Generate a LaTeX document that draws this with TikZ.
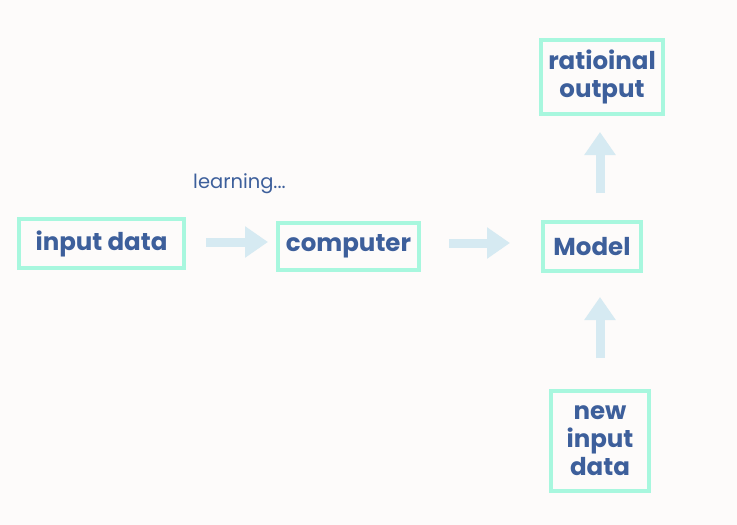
\documentclass[tikz,border=0pt]{standalone}
\usepackage{fontspec}
\setmainfont{Poppins}
\usetikzlibrary{arrows.meta}
\definecolor{bgc}{HTML}{FDFBFA}
\definecolor{boxc}{HTML}{A8F7DE}
\definecolor{txtc}{HTML}{3D5F9B}
\definecolor{arrc}{HTML}{D6EAF2}
\tikzset{
  box/.style={draw=boxc, line width=4pt, inner sep=0pt, text=txtc, font=\fontsize{24.5}{28}\selectfont\bfseries, align=center},
  flow/.style={draw=arrc, line width=9pt, -{Triangle[width=30pt,length=23pt]}, arrc}
}
\begin{document}
\begin{tikzpicture}[x=1pt,y=-1pt]
\fill[bgc] (0,0) rectangle (737,525);
\useasboundingbox (0,0) rectangle (737,525);
\node[box, minimum width=165pt, minimum height=49pt] (in) at (101.5,243.5) {input data};
\node[box, minimum width=141pt, minimum height=47pt] (comp) at (348.5,246.5) {computer};
\node[box, minimum width=98pt, minimum height=49pt] (model) at (592,246.5) {Model};
\node[box, minimum width=122pt, minimum height=74pt] (out) at (602,77) {ratioinal\\output};
\node[box, minimum width=98pt, minimum height=100pt] (new) at (600,441) {new\\input\\data};
\node[text=txtc, font=\fontsize{19.5}{22}\selectfont, anchor=center] (lbl) at (239.5,184) {learning...};
\coordinate (a1s) at (206,242);
\coordinate (a1e) at (268,242);
\coordinate (a2s) at (449,243);
\coordinate (a2e) at (510,243);
\coordinate (a3s) at (600,193);
\coordinate (a3e) at (600,132);
\coordinate (a4s) at (600,358);
\coordinate (a4e) at (600,297);
\draw[flow] (a1s) -- (a1e);
\draw[flow] (a2s) -- (a2e);
\draw[flow] (a3s) -- (a3e);
\draw[flow] (a4s) -- (a4e);
\end{tikzpicture}
\end{document}
